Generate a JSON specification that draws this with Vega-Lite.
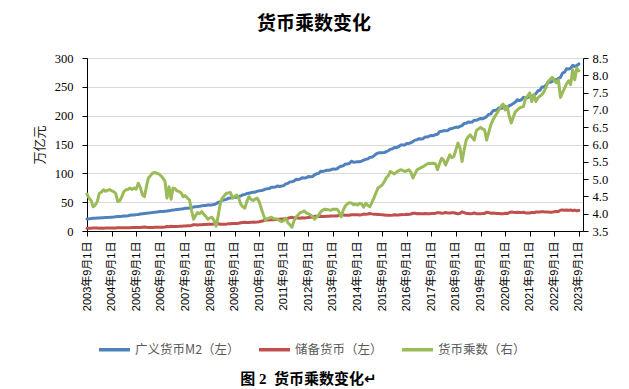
{
"$schema": "https://vega.github.io/schema/vega-lite/v6.json",
"width": 496, "height": 173,
"autosize": "none",
"padding": {"left": 87, "top": 58, "right": 46, "bottom": 158},
"background": "white",
"config": {"font": "Noto Sans CJK SC", "view": {"stroke": null}},
"title": {"text": "货币乘数变化", "anchor": "middle", "frame": "group", "dx": -21, "offset": 18, "fontSize": 19, "font": "Noto Sans CJK SC", "fontWeight": "bold", "color": "#000"},
"data": {"values": [
{"d":"2003-09-01","m2":21.0,"rb":4.6,"mm":4.57},
{"d":"2003-10-01","m2":21.2,"rb":4.8,"mm":4.45},
{"d":"2003-11-01","m2":21.6,"rb":4.9,"mm":4.38},
{"d":"2003-12-01","m2":22.1,"rb":5.3,"mm":4.20},
{"d":"2004-01-01","m2":22.3,"rb":5.2,"mm":4.25},
{"d":"2004-02-01","m2":22.5,"rb":5.2,"mm":4.35},
{"d":"2004-03-01","m2":22.6,"rb":4.9,"mm":4.59},
{"d":"2004-04-01","m2":22.9,"rb":5.0,"mm":4.62},
{"d":"2004-05-01","m2":23.1,"rb":4.9,"mm":4.69},
{"d":"2004-06-01","m2":23.4,"rb":5.0,"mm":4.65},
{"d":"2004-07-01","m2":23.5,"rb":5.0,"mm":4.67},
{"d":"2004-08-01","m2":23.7,"rb":5.0,"mm":4.70},
{"d":"2004-09-01","m2":24.0,"rb":5.2,"mm":4.66},
{"d":"2004-10-01","m2":24.2,"rb":5.2,"mm":4.64},
{"d":"2004-11-01","m2":24.6,"rb":5.4,"mm":4.58},
{"d":"2004-12-01","m2":25.0,"rb":5.7,"mm":4.35},
{"d":"2005-01-01","m2":25.3,"rb":5.8,"mm":4.38},
{"d":"2005-02-01","m2":25.5,"rb":5.7,"mm":4.50},
{"d":"2005-03-01","m2":26.0,"rb":5.6,"mm":4.64},
{"d":"2005-04-01","m2":26.2,"rb":5.6,"mm":4.69},
{"d":"2005-05-01","m2":26.6,"rb":5.7,"mm":4.70},
{"d":"2005-06-01","m2":27.3,"rb":5.8,"mm":4.74},
{"d":"2005-07-01","m2":27.6,"rb":5.9,"mm":4.70},
{"d":"2005-08-01","m2":27.9,"rb":5.9,"mm":4.74},
{"d":"2005-09-01","m2":28.4,"rb":6.0,"mm":4.71},
{"d":"2005-10-01","m2":28.7,"rb":5.9,"mm":4.88},
{"d":"2005-11-01","m2":29.3,"rb":6.2,"mm":4.76},
{"d":"2005-12-01","m2":29.9,"rb":6.6,"mm":4.55},
{"d":"2006-01-01","m2":30.4,"rb":6.8,"mm":4.49},
{"d":"2006-02-01","m2":30.6,"rb":6.4,"mm":4.80},
{"d":"2006-03-01","m2":31.2,"rb":6.2,"mm":5.03},
{"d":"2006-04-01","m2":31.5,"rb":6.2,"mm":5.10},
{"d":"2006-05-01","m2":32.0,"rb":6.2,"mm":5.17},
{"d":"2006-06-01","m2":32.7,"rb":6.3,"mm":5.19},
{"d":"2006-07-01","m2":32.9,"rb":6.4,"mm":5.17},
{"d":"2006-08-01","m2":33.3,"rb":6.5,"mm":5.15},
{"d":"2006-09-01","m2":33.7,"rb":6.6,"mm":5.10},
{"d":"2006-10-01","m2":33.8,"rb":6.7,"mm":5.03},
{"d":"2006-11-01","m2":34.2,"rb":6.9,"mm":4.95},
{"d":"2006-12-01","m2":34.6,"rb":7.8,"mm":4.45},
{"d":"2007-01-01","m2":35.2,"rb":7.4,"mm":4.78},
{"d":"2007-02-01","m2":35.8,"rb":8.1,"mm":4.42},
{"d":"2007-03-01","m2":36.4,"rb":7.7,"mm":4.74},
{"d":"2007-04-01","m2":36.8,"rb":7.8,"mm":4.72},
{"d":"2007-05-01","m2":37.3,"rb":8.0,"mm":4.66},
{"d":"2007-06-01","m2":37.8,"rb":8.1,"mm":4.64},
{"d":"2007-07-01","m2":38.0,"rb":8.3,"mm":4.60},
{"d":"2007-08-01","m2":38.6,"rb":8.6,"mm":4.49},
{"d":"2007-09-01","m2":39.3,"rb":8.7,"mm":4.52},
{"d":"2007-10-01","m2":39.4,"rb":8.9,"mm":4.45},
{"d":"2007-11-01","m2":39.9,"rb":9.1,"mm":4.40},
{"d":"2007-12-01","m2":40.3,"rb":9.8,"mm":4.10},
{"d":"2008-01-01","m2":41.7,"rb":10.9,"mm":3.84},
{"d":"2008-02-01","m2":42.1,"rb":10.7,"mm":3.95},
{"d":"2008-03-01","m2":42.3,"rb":10.5,"mm":4.03},
{"d":"2008-04-01","m2":42.9,"rb":10.7,"mm":4.00},
{"d":"2008-05-01","m2":43.6,"rb":10.7,"mm":4.06},
{"d":"2008-06-01","m2":44.3,"rb":11.1,"mm":3.98},
{"d":"2008-07-01","m2":44.4,"rb":11.3,"mm":3.92},
{"d":"2008-08-01","m2":44.9,"rb":11.7,"mm":3.84},
{"d":"2008-09-01","m2":45.3,"rb":11.7,"mm":3.88},
{"d":"2008-10-01","m2":45.3,"rb":11.6,"mm":3.90},
{"d":"2008-11-01","m2":45.9,"rb":12.1,"mm":3.80},
{"d":"2008-12-01","m2":47.5,"rb":13.0,"mm":3.64},
{"d":"2009-01-01","m2":49.6,"rb":12.6,"mm":3.95},
{"d":"2009-02-01","m2":50.7,"rb":11.8,"mm":4.30},
{"d":"2009-03-01","m2":53.1,"rb":11.9,"mm":4.45},
{"d":"2009-04-01","m2":54.0,"rb":11.9,"mm":4.52},
{"d":"2009-05-01","m2":54.8,"rb":11.9,"mm":4.59},
{"d":"2009-06-01","m2":56.9,"rb":12.4,"mm":4.60},
{"d":"2009-07-01","m2":57.4,"rb":12.5,"mm":4.61},
{"d":"2009-08-01","m2":57.7,"rb":13.0,"mm":4.45},
{"d":"2009-09-01","m2":58.5,"rb":13.0,"mm":4.50},
{"d":"2009-10-01","m2":58.6,"rb":12.9,"mm":4.54},
{"d":"2009-11-01","m2":59.5,"rb":13.4,"mm":4.45},
{"d":"2009-12-01","m2":61.0,"rb":14.3,"mm":4.28},
{"d":"2010-01-01","m2":62.6,"rb":14.9,"mm":4.20},
{"d":"2010-02-01","m2":63.6,"rb":15.3,"mm":4.16},
{"d":"2010-03-01","m2":64.9,"rb":14.9,"mm":4.35},
{"d":"2010-04-01","m2":65.6,"rb":14.6,"mm":4.49},
{"d":"2010-05-01","m2":66.3,"rb":15.0,"mm":4.42},
{"d":"2010-06-01","m2":67.4,"rb":15.4,"mm":4.38},
{"d":"2010-07-01","m2":67.4,"rb":15.2,"mm":4.42},
{"d":"2010-08-01","m2":68.8,"rb":15.5,"mm":4.45},
{"d":"2010-09-01","m2":69.6,"rb":16.0,"mm":4.35},
{"d":"2010-10-01","m2":70.0,"rb":16.8,"mm":4.16},
{"d":"2010-11-01","m2":71.0,"rb":17.8,"mm":3.98},
{"d":"2010-12-01","m2":72.6,"rb":19.0,"mm":3.82},
{"d":"2011-01-01","m2":73.3,"rb":19.0,"mm":3.86},
{"d":"2011-02-01","m2":73.7,"rb":19.0,"mm":3.88},
{"d":"2011-03-01","m2":75.8,"rb":19.4,"mm":3.90},
{"d":"2011-04-01","m2":75.7,"rb":19.6,"mm":3.86},
{"d":"2011-05-01","m2":76.3,"rb":19.8,"mm":3.85},
{"d":"2011-06-01","m2":78.1,"rb":20.3,"mm":3.84},
{"d":"2011-07-01","m2":77.3,"rb":20.3,"mm":3.80},
{"d":"2011-08-01","m2":78.1,"rb":20.7,"mm":3.77},
{"d":"2011-09-01","m2":78.7,"rb":20.7,"mm":3.80},
{"d":"2011-10-01","m2":81.7,"rb":21.1,"mm":3.87},
{"d":"2011-11-01","m2":82.6,"rb":22.1,"mm":3.74},
{"d":"2011-12-01","m2":85.2,"rb":23.2,"mm":3.68},
{"d":"2012-01-01","m2":85.6,"rb":23.7,"mm":3.61},
{"d":"2012-02-01","m2":86.7,"rb":22.8,"mm":3.80},
{"d":"2012-03-01","m2":89.6,"rb":23.0,"mm":3.90},
{"d":"2012-04-01","m2":89.0,"rb":22.5,"mm":3.96},
{"d":"2012-05-01","m2":90.0,"rb":22.3,"mm":4.03},
{"d":"2012-06-01","m2":92.5,"rb":22.8,"mm":4.05},
{"d":"2012-07-01","m2":91.9,"rb":22.5,"mm":4.08},
{"d":"2012-08-01","m2":92.5,"rb":23.0,"mm":4.02},
{"d":"2012-09-01","m2":94.4,"rb":23.6,"mm":4.00},
{"d":"2012-10-01","m2":94.0,"rb":23.7,"mm":3.96},
{"d":"2012-11-01","m2":94.5,"rb":24.1,"mm":3.92},
{"d":"2012-12-01","m2":97.4,"rb":25.4,"mm":3.84},
{"d":"2013-01-01","m2":99.2,"rb":25.4,"mm":3.90},
{"d":"2013-02-01","m2":99.9,"rb":25.2,"mm":3.96},
{"d":"2013-03-01","m2":103.6,"rb":25.6,"mm":4.05},
{"d":"2013-04-01","m2":103.3,"rb":25.2,"mm":4.10},
{"d":"2013-05-01","m2":104.2,"rb":25.2,"mm":4.13},
{"d":"2013-06-01","m2":105.4,"rb":25.6,"mm":4.12},
{"d":"2013-07-01","m2":105.2,"rb":25.6,"mm":4.11},
{"d":"2013-08-01","m2":106.1,"rb":25.9,"mm":4.10},
{"d":"2013-09-01","m2":107.7,"rb":26.1,"mm":4.13},
{"d":"2013-10-01","m2":107.1,"rb":25.9,"mm":4.13},
{"d":"2013-11-01","m2":107.9,"rb":26.1,"mm":4.13},
{"d":"2013-12-01","m2":110.7,"rb":27.3,"mm":4.05},
{"d":"2014-01-01","m2":112.4,"rb":28.7,"mm":3.91},
{"d":"2014-02-01","m2":113.1,"rb":27.6,"mm":4.10},
{"d":"2014-03-01","m2":116.1,"rb":27.5,"mm":4.22},
{"d":"2014-04-01","m2":116.2,"rb":27.2,"mm":4.28},
{"d":"2014-05-01","m2":117.1,"rb":27.1,"mm":4.32},
{"d":"2014-06-01","m2":121.0,"rb":28.1,"mm":4.31},
{"d":"2014-07-01","m2":119.4,"rb":28.0,"mm":4.26},
{"d":"2014-08-01","m2":119.7,"rb":28.0,"mm":4.28},
{"d":"2014-09-01","m2":120.2,"rb":28.3,"mm":4.25},
{"d":"2014-10-01","m2":119.9,"rb":27.9,"mm":4.30},
{"d":"2014-11-01","m2":121.2,"rb":28.3,"mm":4.28},
{"d":"2014-12-01","m2":122.8,"rb":29.3,"mm":4.19},
{"d":"2015-01-01","m2":124.3,"rb":28.9,"mm":4.30},
{"d":"2015-02-01","m2":125.1,"rb":29.5,"mm":4.24},
{"d":"2015-03-01","m2":127.5,"rb":30.4,"mm":4.20},
{"d":"2015-04-01","m2":128.1,"rb":29.7,"mm":4.32},
{"d":"2015-05-01","m2":130.1,"rb":29.2,"mm":4.45},
{"d":"2015-06-01","m2":133.3,"rb":29.0,"mm":4.60},
{"d":"2015-07-01","m2":135.3,"rb":28.5,"mm":4.74},
{"d":"2015-08-01","m2":135.7,"rb":28.4,"mm":4.78},
{"d":"2015-09-01","m2":135.9,"rb":28.1,"mm":4.83},
{"d":"2015-10-01","m2":136.1,"rb":27.7,"mm":4.92},
{"d":"2015-11-01","m2":137.4,"rb":27.3,"mm":5.03},
{"d":"2015-12-01","m2":139.2,"rb":27.3,"mm":5.10},
{"d":"2016-01-01","m2":141.6,"rb":27.1,"mm":5.22},
{"d":"2016-02-01","m2":142.5,"rb":27.5,"mm":5.18},
{"d":"2016-03-01","m2":144.6,"rb":28.1,"mm":5.15},
{"d":"2016-04-01","m2":144.5,"rb":27.8,"mm":5.20},
{"d":"2016-05-01","m2":146.2,"rb":27.9,"mm":5.24},
{"d":"2016-06-01","m2":149.0,"rb":28.3,"mm":5.27},
{"d":"2016-07-01","m2":149.2,"rb":28.4,"mm":5.25},
{"d":"2016-08-01","m2":149.2,"rb":28.6,"mm":5.22},
{"d":"2016-09-01","m2":151.6,"rb":28.9,"mm":5.24},
{"d":"2016-10-01","m2":151.9,"rb":28.8,"mm":5.27},
{"d":"2016-11-01","m2":153.0,"rb":29.4,"mm":5.20},
{"d":"2016-12-01","m2":155.0,"rb":30.8,"mm":5.03},
{"d":"2017-01-01","m2":157.6,"rb":30.6,"mm":5.15},
{"d":"2017-02-01","m2":158.3,"rb":30.0,"mm":5.27},
{"d":"2017-03-01","m2":160.1,"rb":30.2,"mm":5.30},
{"d":"2017-04-01","m2":159.6,"rb":29.9,"mm":5.33},
{"d":"2017-05-01","m2":160.1,"rb":29.9,"mm":5.36},
{"d":"2017-06-01","m2":163.1,"rb":30.2,"mm":5.40},
{"d":"2017-07-01","m2":162.9,"rb":29.9,"mm":5.44},
{"d":"2017-08-01","m2":164.5,"rb":30.1,"mm":5.46},
{"d":"2017-09-01","m2":165.6,"rb":30.4,"mm":5.45},
{"d":"2017-10-01","m2":165.3,"rb":30.3,"mm":5.46},
{"d":"2017-11-01","m2":167.0,"rb":30.7,"mm":5.44},
{"d":"2017-12-01","m2":167.7,"rb":31.8,"mm":5.27},
{"d":"2018-01-01","m2":172.1,"rb":31.6,"mm":5.45},
{"d":"2018-02-01","m2":172.9,"rb":30.9,"mm":5.60},
{"d":"2018-03-01","m2":173.9,"rb":31.3,"mm":5.55},
{"d":"2018-04-01","m2":173.8,"rb":32.1,"mm":5.41},
{"d":"2018-05-01","m2":174.3,"rb":31.4,"mm":5.55},
{"d":"2018-06-01","m2":177.0,"rb":31.1,"mm":5.70},
{"d":"2018-07-01","m2":177.6,"rb":31.6,"mm":5.62},
{"d":"2018-08-01","m2":178.9,"rb":31.7,"mm":5.65},
{"d":"2018-09-01","m2":180.2,"rb":30.8,"mm":5.85},
{"d":"2018-10-01","m2":179.6,"rb":29.7,"mm":6.04},
{"d":"2018-11-01","m2":181.3,"rb":30.7,"mm":5.90},
{"d":"2018-12-01","m2":182.7,"rb":33.2,"mm":5.51},
{"d":"2019-01-01","m2":186.6,"rb":31.9,"mm":5.85},
{"d":"2019-02-01","m2":186.7,"rb":30.5,"mm":6.13},
{"d":"2019-03-01","m2":188.9,"rb":30.4,"mm":6.22},
{"d":"2019-04-01","m2":188.4,"rb":30.0,"mm":6.28},
{"d":"2019-05-01","m2":189.0,"rb":30.5,"mm":6.20},
{"d":"2019-06-01","m2":192.1,"rb":31.3,"mm":6.13},
{"d":"2019-07-01","m2":191.9,"rb":30.0,"mm":6.40},
{"d":"2019-08-01","m2":193.6,"rb":30.0,"mm":6.45},
{"d":"2019-09-01","m2":195.2,"rb":30.1,"mm":6.49},
{"d":"2019-10-01","m2":194.6,"rb":30.2,"mm":6.45},
{"d":"2019-11-01","m2":196.1,"rb":30.5,"mm":6.42},
{"d":"2019-12-01","m2":198.6,"rb":32.4,"mm":6.13},
{"d":"2020-01-01","m2":202.3,"rb":31.9,"mm":6.35},
{"d":"2020-02-01","m2":203.1,"rb":30.9,"mm":6.57},
{"d":"2020-03-01","m2":208.1,"rb":31.1,"mm":6.70},
{"d":"2020-04-01","m2":209.4,"rb":30.8,"mm":6.81},
{"d":"2020-05-01","m2":210.0,"rb":30.4,"mm":6.90},
{"d":"2020-06-01","m2":213.5,"rb":30.5,"mm":7.00},
{"d":"2020-07-01","m2":212.6,"rb":29.9,"mm":7.10},
{"d":"2020-08-01","m2":213.7,"rb":29.8,"mm":7.17},
{"d":"2020-09-01","m2":216.4,"rb":30.9,"mm":7.00},
{"d":"2020-10-01","m2":214.3,"rb":30.2,"mm":7.10},
{"d":"2020-11-01","m2":217.2,"rb":31.9,"mm":6.81},
{"d":"2020-12-01","m2":218.7,"rb":33.0,"mm":6.62},
{"d":"2021-01-01","m2":221.3,"rb":32.5,"mm":6.80},
{"d":"2021-02-01","m2":223.6,"rb":32.2,"mm":6.95},
{"d":"2021-03-01","m2":227.7,"rb":32.5,"mm":7.00},
{"d":"2021-04-01","m2":226.2,"rb":32.1,"mm":7.05},
{"d":"2021-05-01","m2":227.6,"rb":32.1,"mm":7.08},
{"d":"2021-06-01","m2":231.8,"rb":32.6,"mm":7.10},
{"d":"2021-07-01","m2":230.2,"rb":31.4,"mm":7.34},
{"d":"2021-08-01","m2":231.2,"rb":31.2,"mm":7.40},
{"d":"2021-09-01","m2":234.3,"rb":31.3,"mm":7.49},
{"d":"2021-10-01","m2":233.6,"rb":32.3,"mm":7.24},
{"d":"2021-11-01","m2":235.6,"rb":31.7,"mm":7.44},
{"d":"2021-12-01","m2":238.3,"rb":32.9,"mm":7.24},
{"d":"2022-01-01","m2":243.1,"rb":33.1,"mm":7.35},
{"d":"2022-02-01","m2":244.1,"rb":33.0,"mm":7.40},
{"d":"2022-03-01","m2":249.8,"rb":33.6,"mm":7.44},
{"d":"2022-04-01","m2":249.9,"rb":33.2,"mm":7.53},
{"d":"2022-05-01","m2":252.7,"rb":33.0,"mm":7.65},
{"d":"2022-06-01","m2":258.1,"rb":33.0,"mm":7.82},
{"d":"2022-07-01","m2":257.8,"rb":32.7,"mm":7.88},
{"d":"2022-08-01","m2":259.5,"rb":32.7,"mm":7.94},
{"d":"2022-09-01","m2":262.7,"rb":33.5,"mm":7.85},
{"d":"2022-10-01","m2":261.3,"rb":33.6,"mm":7.78},
{"d":"2022-11-01","m2":264.7,"rb":33.6,"mm":7.87},
{"d":"2022-12-01","m2":266.4,"rb":36.2,"mm":7.36},
{"d":"2023-01-01","m2":273.8,"rb":36.5,"mm":7.50},
{"d":"2023-02-01","m2":275.5,"rb":36.1,"mm":7.63},
{"d":"2023-03-01","m2":281.5,"rb":36.3,"mm":7.75},
{"d":"2023-04-01","m2":280.9,"rb":35.8,"mm":7.84},
{"d":"2023-05-01","m2":282.1,"rb":36.5,"mm":7.73},
{"d":"2023-06-01","m2":287.3,"rb":35.2,"mm":8.16},
{"d":"2023-07-01","m2":285.4,"rb":36.3,"mm":7.87},
{"d":"2023-08-01","m2":286.9,"rb":35.0,"mm":8.21},
{"d":"2023-09-01","m2":289.7,"rb":35.6,"mm":8.13}
]},
"encoding": {
  "x": {"field": "d", "type": "temporal",
    "scale": {"type": "utc", "domain": [{"year": 2003, "month": 9, "date": 1, "utc": true}, {"year": 2023, "month": 11, "date": 1, "utc": true}]},
    "axis": {
      "values": [
        {"year":2003,"month":9,"date":1,"utc":true},{"year":2004,"month":9,"date":1,"utc":true},{"year":2005,"month":9,"date":1,"utc":true},{"year":2006,"month":9,"date":1,"utc":true},{"year":2007,"month":9,"date":1,"utc":true},{"year":2008,"month":9,"date":1,"utc":true},{"year":2009,"month":9,"date":1,"utc":true},{"year":2010,"month":9,"date":1,"utc":true},{"year":2011,"month":9,"date":1,"utc":true},{"year":2012,"month":9,"date":1,"utc":true},{"year":2013,"month":9,"date":1,"utc":true},{"year":2014,"month":9,"date":1,"utc":true},{"year":2015,"month":9,"date":1,"utc":true},{"year":2016,"month":9,"date":1,"utc":true},{"year":2017,"month":9,"date":1,"utc":true},{"year":2018,"month":9,"date":1,"utc":true},{"year":2019,"month":9,"date":1,"utc":true},{"year":2020,"month":9,"date":1,"utc":true},{"year":2021,"month":9,"date":1,"utc":true},{"year":2022,"month":9,"date":1,"utc":true},{"year":2023,"month":9,"date":1,"utc":true}
      ],
      "labelExpr": "utcFormat(datum.value, '%Y年%-m月%-d日')",
      "labelAngle": 270, "labelAlign": "right", "labelBaseline": "middle",
      "labelFont": "Liberation Sans, Noto Sans CJK SC", "labelFontSize": 11, "labelColor": "#000",
      "labelPadding": 5, "labelOverlap": false, "labelFlush": false,
      "tickSize": 5, "tickColor": "#000", "domainColor": "#000", "grid": false,
      "title": "图 2\u00a0 货币乘数变化↵",
      "titleFont": "Liberation Serif, Noto Sans CJK SC, DejaVu Sans", "titleFontSize": 15, "titleFontWeight": "bold", "titleColor": "#000",
      "titleX": 221, "titleY": 152, "titleBaseline": "alphabetic", "titleAlign": "center", "titleAngle": 0
    }
  }
},
"layer": [
  {
    "transform": [{"fold": ["m2", "rb"], "as": ["series", "value"]}],
    "mark": {"type": "line", "strokeWidth": 3, "strokeJoin": "round", "strokeCap": "round"},
    "encoding": {
      "y": {"field": "value", "type": "quantitative",
        "scale": {"domain": [0, 300], "nice": false, "zero": true},
        "axis": {"orient": "left", "values": [0, 50, 100, 150, 200, 250, 300],
          "labelFont": "Liberation Serif", "labelFontSize": 12.5, "labelColor": "#000", "labelPadding": 9,
          "tickSize": 5, "tickColor": "#000", "domainColor": "#000",
          "grid": true, "gridColor": "#d9d9d9", "gridWidth": 1,
          "title": "万亿元", "titleFont": "Noto Sans CJK SC", "titleFontSize": 13, "titleFontWeight": "normal", "titleColor": "#222", "titlePadding": 8}},
      "color": {"field": "series", "type": "nominal",
        "scale": {"domain": ["m2", "rb", "mm"], "range": ["#4f81bd", "#c0504d", "#9bbb59"]},
        "legend": {"orient": "none", "legendX": 10, "legendY": 274, "direction": "horizontal", "columns": 3, "title": null,
          "symbolType": "stroke", "symbolSize": 961, "symbolStrokeWidth": 3.5,
          "labelExpr": "datum.label == 'm2' ? '广义货币M2（左）' : datum.label == 'rb' ? '储备货币（左）' : '货币乘数（右）'",
          "labelFont": "Noto Sans CJK SC", "labelFontSize": 12.5, "labelColor": "#595959", "labelOffset": 3,
          "columnPadding": 12, "padding": 0}}
    }
  },
  {
    "mark": {"type": "line", "strokeWidth": 3, "strokeJoin": "round", "strokeCap": "round"},
    "encoding": {
      "y": {"field": "mm", "type": "quantitative",
        "scale": {"domain": [3.5, 8.5], "nice": false, "zero": false},
        "axis": {"orient": "right", "values": [3.5, 4, 4.5, 5, 5.5, 6, 6.5, 7, 7.5, 8, 8.5], "format": ".1f",
          "labelFont": "Liberation Serif", "labelFontSize": 12.5, "labelColor": "#000", "labelPadding": 4,
          "tickSize": 5, "tickColor": "#000", "domainColor": "#000", "grid": false, "title": null}},
      "color": {"datum": "mm", "type": "nominal"}
    }
  }
],
"resolve": {"scale": {"y": "independent"}}
}
